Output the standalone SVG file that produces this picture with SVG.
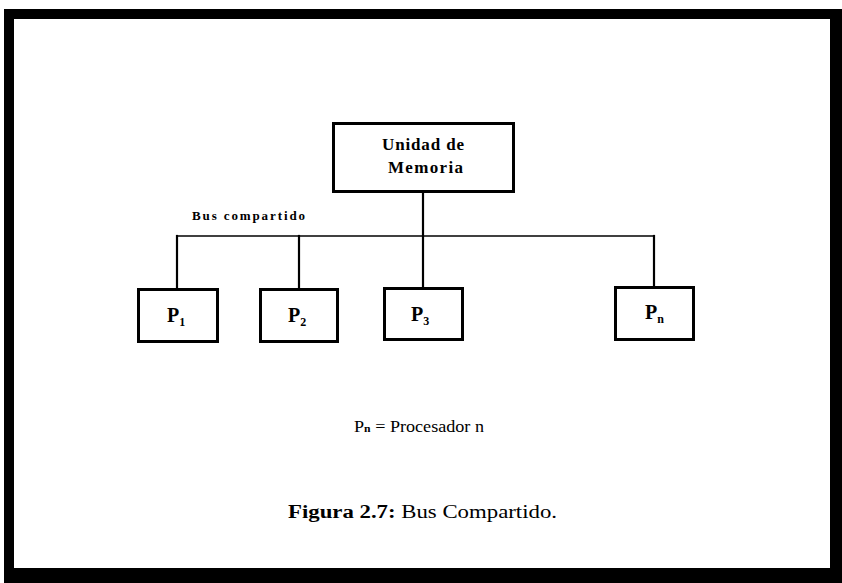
<svg xmlns="http://www.w3.org/2000/svg" width="842" height="583" viewBox="0 0 842 583">
  <style>
    .node rect { fill: #ffffff; stroke: #000000; stroke-width: 3; }
    .lbl { font-family: "Liberation Serif", "Times New Roman", serif; font-weight: bold; fill: #000000; }
    .plain { font-weight: normal; }
    .wire { stroke: #000000; fill: none; stroke-linecap: square; }
  </style>

  <!-- page frame -->
  <rect x="0" y="0" width="842" height="583" fill="#ffffff"/>
  <rect x="4" y="9" width="838" height="574" fill="#000000"/>
  <rect x="14" y="19" width="816" height="549" fill="#ffffff"/>

  <!-- shared bus and drop lines -->
  <g id="connectors">
    <line class="wire" x1="177" y1="236" x2="654" y2="236" stroke-width="1.6"/>
    <line class="wire" x1="423" y1="193" x2="423" y2="286" stroke-width="2.2"/>
    <line class="wire" x1="177" y1="236" x2="177" y2="287" stroke-width="2.2"/>
    <line class="wire" x1="299" y1="236" x2="299" y2="287" stroke-width="2.2"/>
    <line class="wire" x1="654" y1="236" x2="654" y2="285" stroke-width="2.2"/>
  </g>

  <text class="lbl" x="192" y="220" font-size="13" textLength="113" lengthAdjust="spacing">Bus compartido</text>

  <g id="memoria" class="node">
    <rect x="333.5" y="123.5" width="180" height="68"/>
    <text class="lbl" x="382" y="150" font-size="17" textLength="82" lengthAdjust="spacing">Unidad de</text>
    <text class="lbl" x="388" y="173" font-size="17" textLength="75" lengthAdjust="spacing">Memoria</text>
  </g>

  <g id="p1" class="node">
    <rect x="138.5" y="289.5" width="79" height="52"/>
    <text class="lbl" x="167" y="322" font-size="20">P<tspan font-size="12" dy="4">1</tspan></text>
  </g>

  <g id="p2" class="node">
    <rect x="260.5" y="289.5" width="77" height="52"/>
    <text class="lbl" x="288" y="322" font-size="20">P<tspan font-size="12" dy="4">2</tspan></text>
  </g>

  <g id="p3" class="node">
    <rect x="384.5" y="288.5" width="78" height="51"/>
    <text class="lbl" x="411" y="321" font-size="20">P<tspan font-size="12" dy="4">3</tspan></text>
  </g>

  <g id="pn" class="node">
    <rect x="615.5" y="287.5" width="78" height="52"/>
    <text class="lbl" x="645" y="319" font-size="20">P<tspan font-size="12" dy="4">n</tspan></text>
  </g>

  <!-- legend -->
  <text class="lbl plain" x="354" y="432" font-size="17" textLength="130" lengthAdjust="spacingAndGlyphs">P<tspan font-size="11" font-weight="bold">n</tspan> = Procesador n</text>

  <!-- caption -->
  <text class="lbl" x="288" y="518" font-size="18" textLength="269" lengthAdjust="spacingAndGlyphs">Figura 2.7:<tspan class="plain"> Bus Compartido.</tspan></text>
</svg>
